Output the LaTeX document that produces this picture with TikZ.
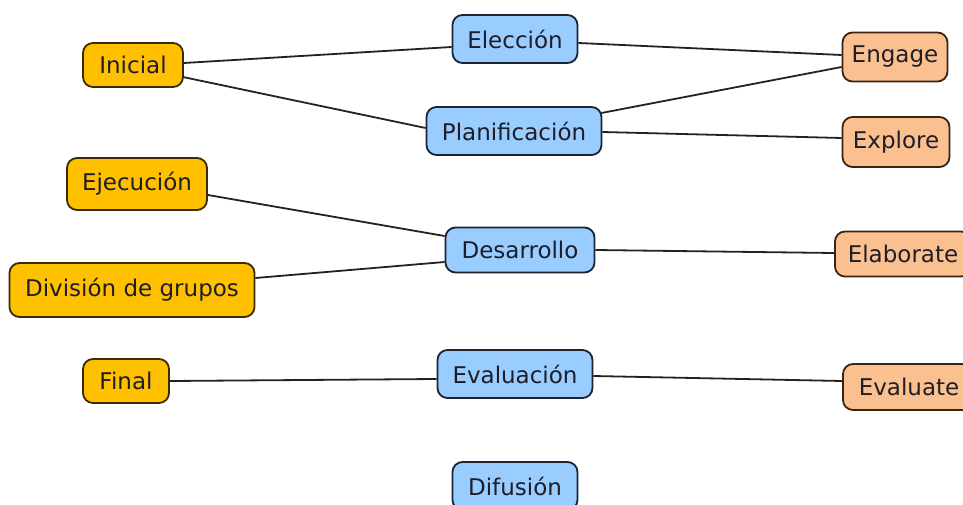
\documentclass[tikz,border=0pt]{standalone}
\usepackage{fontspec}
\setmainfont{DejaVu Sans}
\usetikzlibrary{calc}
\definecolor{yfill}{HTML}{FFC000}
\definecolor{ydraw}{HTML}{3A2A0A}
\definecolor{bfill}{HTML}{99CCFF}
\definecolor{bdraw}{HTML}{1A2433}
\definecolor{ofill}{HTML}{FAC08F}
\definecolor{odraw}{HTML}{3A2414}
\definecolor{txt}{HTML}{1E1E28}
\definecolor{edge}{HTML}{222222}
\begin{document}
\begin{tikzpicture}[x=1pt,y=-1pt,
  boxbase/.style={line width=1.8pt, rounded corners=10pt, inner sep=0pt,
    align=center, text=txt, font=\fontsize{23}{27}\selectfont},
  ybox/.style={boxbase, draw=ydraw, fill=yfill},
  bbox/.style={boxbase, draw=bdraw, fill=bfill},
  obox/.style={boxbase, draw=odraw, fill=ofill},
  conn/.style={draw=edge, line width=1.8pt}]
\useasboundingbox (0,0) rectangle (963,505);
\clip (0,0) rectangle (963,505);
% left column
\node[ybox, minimum width=100pt, minimum height=44pt] (inicial) at (133,65) {Inicial};
\node[ybox, minimum width=140pt, minimum height=52pt] (ejecucion) at (137,184) {Ejecución};
\node[ybox, minimum width=245pt, minimum height=54pt] (division) at (132,290) {División de grupos};
\node[ybox, minimum width=86pt, minimum height=44pt] (final) at (126,381) {Final};
% middle column
\node[bbox, minimum width=125pt, minimum height=48pt] (eleccion) at (515,39) {Elección};
\node[bbox, minimum width=175pt, minimum height=48pt] (planif) at (514,131) {Planificación};
\node[bbox, minimum width=149pt, minimum height=45pt] (desarrollo) at (520,250) {Desarrollo};
\node[bbox, minimum width=155pt, minimum height=48pt] (evaluacion) at (515,374) {Evaluación};
\node[bbox, minimum width=125pt, minimum height=48pt] (difusion) at (515,486) {Difusión};
% right column
\node[obox, minimum width=105pt, minimum height=49pt] (engage) at (895,57) {Engage};
\node[obox, minimum width=107pt, minimum height=50pt] (explore) at (896,142) {Explore};
\node[obox, minimum width=136pt, minimum height=45pt] (elaborate) at (903,254) {Elaborate};
\node[obox, minimum width=132pt, minimum height=46pt] (evaluate) at (909,387) {Evaluate};
% connectors
\draw[conn] ($(inicial.east)+(0,-2)$) -- ($(eleccion.west)+(0,8)$);
\draw[conn] ($(inicial.east)+(-1,12)$) -- ($(planif.west)+(0,-3)$);
\draw[conn] ($(eleccion.east)+(0,4)$) -- ($(engage.west)+(0,-2)$);
\draw[conn] ($(planif.east)+(-1,-18)$) -- ($(engage.west)+(0,10)$);
\draw[conn] ($(planif.east)+(0,1)$) -- ($(explore.west)+(0,-4)$);
\draw[conn] ($(ejecucion.east)+(0,11)$) -- ($(desarrollo.west)+(0,-14)$);
\draw[conn] ($(division.east)+(0,-12)$) -- ($(desarrollo.west)+(0,12)$);
\draw[conn] (desarrollo.east) -- ($(elaborate.west)+(0,-1)$);
\draw[conn] (final.east) -- ($(evaluacion.west)+(0,5)$);
\draw[conn] ($(evaluacion.east)+(0,2)$) -- ($(evaluate.west)+(0,-6)$);
\end{tikzpicture}
\end{document}
